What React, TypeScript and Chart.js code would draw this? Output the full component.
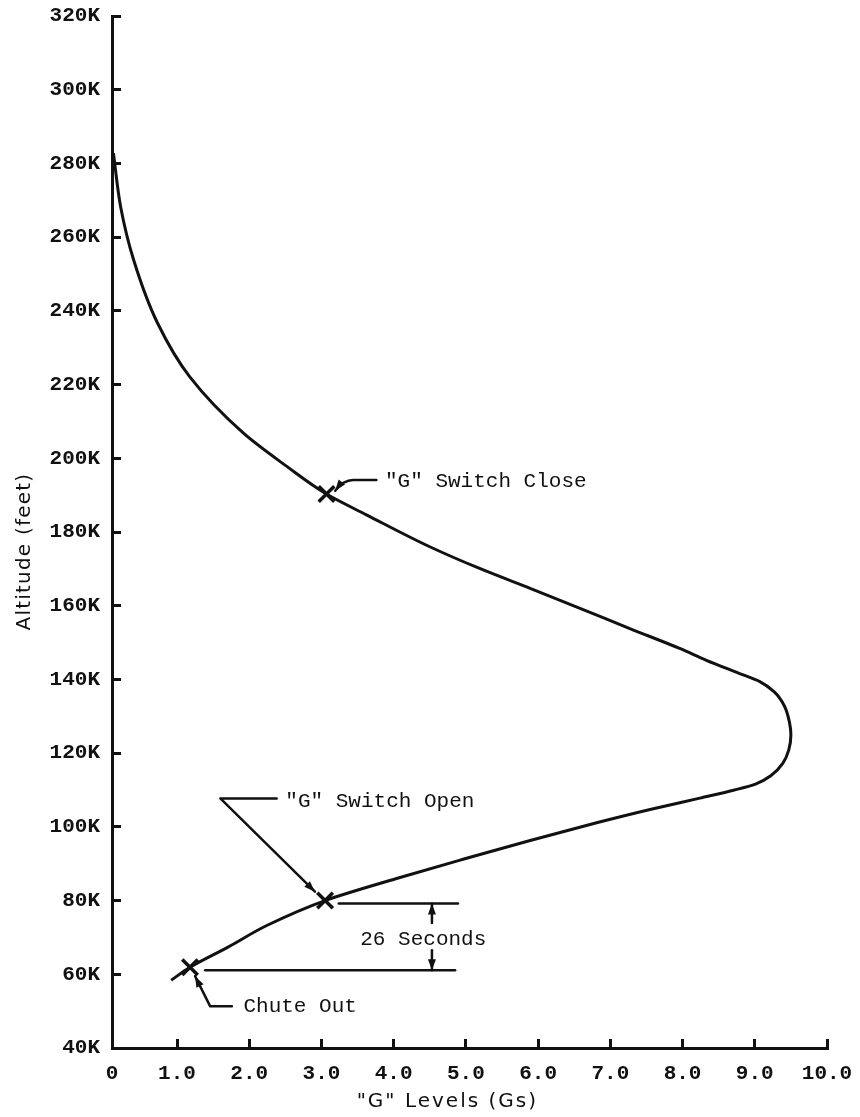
import React, { useEffect, useRef } from 'react';
import { Chart, registerables } from 'chart.js';

Chart.register(...registerables);

// ---- Data ----
// Curve, ordered from the top of the trajectory downward (altitude strictly decreasing)
const G_LEVELS = [
  0.12, 0.22, 0.4, 0.73, 1.18, 1.92, 2.52, 3.07, 3.63, 4.5, 5.19, 5.89, 6.58, 7.27, 7.96,
  8.33, 8.79, 9.07, 9.27, 9.41, 9.48, 9.5, 9.47, 9.39, 9.23, 9.01, 8.72, 8.24, 7.55, 6.81,
  5.89, 4.96, 4.04, 3.05, 2.25, 1.7, 1.18, 0.92,
];
const ALTITUDE_K = [
  282.8, 268.2, 253.8, 236.7, 222.0, 206.8, 197.8, 190.3, 184.6, 176.0, 170.1, 164.7, 159.3,
  153.8, 148.4, 145.2, 141.6, 139.4, 136.6, 132.8, 128.4, 124.9, 120.8, 117.3, 114.0, 111.6,
  110.0, 107.8, 104.7, 101.1, 96.3, 91.2, 86.0, 80.0, 73.3, 67.3, 61.9, 58.4,
];

// Event markers (X symbols): G switch close, G switch open, chute out
const EVENT_G = [3.07, 3.05, 1.18];
const EVENT_ALT_K = [190.3, 80.0, 61.9];

// Axis ticks
const X_TICK_VALUES = [0.1, 1, 2, 3, 4, 5, 6, 7, 8, 9, 10];
const X_TICK_LABELS = ['0', '1.0', '2.0', '3.0', '4.0', '5.0', '6.0', '7.0', '8.0', '9.0', '10.0'];
const Y_TICK_VALUES = [40, 60, 80, 100, 120, 140, 160, 180, 200, 220, 240, 260, 280, 300, 320];
const Y_TICK_LABELS = ['40K', '60K', '80K', '100K', '120K', '140K', '160K', '180K', '200K', '220K', '240K', '260K', '280K', '300K', '320K'];

const X_TITLE = '"G" Levels (Gs)';
const Y_TITLE = 'Altitude (feet)';

// Annotation texts anchored in data units (G, altitude K)
const NOTE_TEXTS = ['"G" Switch Close', '"G" Switch Open', '26 Seconds', 'Chute Out'];
const NOTE_G = [3.88, 2.5, 4.41, 1.92];
const NOTE_ALT = [193.6, 106.8, 69.4, 51.2];
const NOTE_ALIGN = ['left', 'left', 'center', 'left'];

// Leader lines anchored in data units
const LEADERS = [
  { g: [3.76, 3.44, 3.19], alt: [194.1, 194.1, 191.2], curve: true, arrow: true },
  { g: [2.38, 1.6, 2.91], alt: [107.7, 107.7, 82.4], curve: false, arrow: true },
  { g: [1.76, 1.46, 1.25], alt: [51.3, 51.3, 59.5], curve: false, arrow: true },
  { g: [3.24, 4.89], alt: [79.2, 79.2], curve: false, arrow: false },
  { g: [1.39, 4.85], alt: [61.1, 61.1], curve: false, arrow: false },
  { g: [4.53, 4.53], alt: [73.9, 79.2], curve: false, arrow: true },
  { g: [4.53, 4.53], alt: [66.5, 61.1], curve: false, arrow: true },
];

const INK = '#111';
const MONO = '"Liberation Mono", "DejaVu Sans Mono", monospace';
const SANS = '"DejaVu Sans", "Liberation Sans", sans-serif';

function drawArrowHead(ctx: CanvasRenderingContext2D, fx: number, fy: number, tx: number, ty: number) {
  const a = Math.atan2(ty - fy, tx - fx);
  const len = 11;
  const w = 4;
  ctx.beginPath();
  ctx.moveTo(tx, ty);
  ctx.lineTo(tx - len * Math.cos(a) + w * Math.sin(a), ty - len * Math.sin(a) - w * Math.cos(a));
  ctx.lineTo(tx - len * Math.cos(a) - w * Math.sin(a), ty - len * Math.sin(a) + w * Math.cos(a));
  ctx.closePath();
  ctx.fill();
}

const annotationPlugin = {
  id: 'annotations',
  afterDatasetsDraw(chart: any) {
    const ctx: CanvasRenderingContext2D = chart.ctx;
    const xs = chart.scales.x;
    const ys = chart.scales.y;
    ctx.save();
    ctx.strokeStyle = INK;
    ctx.fillStyle = INK;
    ctx.lineWidth = 2.5;
    ctx.lineCap = 'round';
    ctx.lineJoin = 'round';
    LEADERS.forEach((ld) => {
      const px = ld.g.map((v) => xs.getPixelForValue(v));
      const py = ld.alt.map((v) => ys.getPixelForValue(v));
      ctx.beginPath();
      ctx.moveTo(px[0], py[0]);
      let fromX = px[px.length - 2];
      let fromY = py[py.length - 2];
      if (ld.curve && px.length === 3) {
        ctx.lineTo(px[1], py[1]);
        const cx = px[2] + (px[1] - px[2]) * 0.45;
        const cy = py[1];
        ctx.quadraticCurveTo(cx, cy, px[2], py[2]);
        fromX = cx;
        fromY = cy;
      } else {
        for (let i = 1; i < px.length; i++) ctx.lineTo(px[i], py[i]);
      }
      ctx.stroke();
      if (ld.arrow) drawArrowHead(ctx, fromX, fromY, px[px.length - 1], py[py.length - 1]);
    });

    ctx.font = `21px ${MONO}`;
    ctx.textBaseline = 'middle';
    NOTE_TEXTS.forEach((t, i) => {
      ctx.textAlign = NOTE_ALIGN[i] as CanvasTextAlign;
      ctx.fillText(t, xs.getPixelForValue(NOTE_G[i]), ys.getPixelForValue(NOTE_ALT[i]));
    });
    ctx.restore();
  },
  afterDraw(chart: any) {
    const ctx: any = chart.ctx;
    const area = chart.chartArea;
    ctx.save();
    ctx.fillStyle = INK;
    ctx.font = `20px ${SANS}`;
    ctx.textAlign = 'center';
    ctx.textBaseline = 'middle';
    // x-axis title
    ctx.letterSpacing = '2px';
    ctx.fillText(X_TITLE, area.left + (area.right - area.left) * 0.469, chart.height - 15);
    // y-axis title
    ctx.letterSpacing = '1.2px';
    ctx.translate(25, area.top + (area.bottom - area.top) * 0.519);
    ctx.rotate(-Math.PI / 2);
    ctx.fillText(Y_TITLE, 0, 0);
    ctx.restore();
  },
};

export default function App() {
  const canvasRef = useRef<HTMLCanvasElement | null>(null);

  useEffect(() => {
    const canvas = canvasRef.current;
    if (!canvas) return;
    const curve = G_LEVELS.map((g, i) => ({ x: g, y: ALTITUDE_K[i] }));
    const events = EVENT_G.map((g, i) => ({ x: g, y: EVENT_ALT_K[i] }));

    const chart = new Chart(canvas, {
      type: 'line',
      data: {
        datasets: [
          {
            label: 'G level',
            data: curve,
            borderColor: INK,
            borderWidth: 3,
            pointRadius: 0,
            cubicInterpolationMode: 'monotone',
            fill: false,
          },
          {
            type: 'scatter',
            label: 'Events',
            data: events,
            pointStyle: 'crossRot',
            pointRadius: 11,
            borderWidth: 3.5,
            borderColor: INK,
            backgroundColor: INK,
            showLine: false,
          } as any,
        ],
      },
      options: {
        indexAxis: 'y',
        responsive: false,
        animation: false,
        layout: { padding: { top: 16, right: 33, left: 0, bottom: 0 } },
        plugins: {
          legend: { display: false },
          tooltip: { enabled: false },
        },
        scales: {
          x: {
            type: 'linear',
            position: 'bottom',
            min: 0.1,
            max: 10,
            afterBuildTicks: (s: any) => {
              s.ticks = X_TICK_VALUES.map((v) => ({ value: v }));
            },
            afterFit: (s: any) => {
              s.height = 69;
              s.paddingLeft = 0;
              s.paddingRight = 0;
            },
            border: { display: true, width: 3, color: INK },
            grid: { drawOnChartArea: false, drawTicks: true, tickLength: -9, tickWidth: 3, color: INK },
            ticks: {
              autoSkip: false,
              maxRotation: 0,
              padding: 22,
              color: INK,
              font: { family: MONO, size: 21, weight: 'bold' },
              callback: (_v: any, i: number) => X_TICK_LABELS[i],
            },
          },
          y: {
            type: 'linear',
            position: 'left',
            min: 40,
            max: 320,
            afterBuildTicks: (s: any) => {
              s.ticks = Y_TICK_VALUES.map((v) => ({ value: v }));
            },
            afterFit: (s: any) => {
              s.width = 112;
              s.paddingTop = 0;
              s.paddingBottom = 0;
            },
            border: { display: true, width: 3, color: INK },
            grid: { drawOnChartArea: false, drawTicks: true, tickLength: -9, tickWidth: 3, color: INK },
            ticks: {
              autoSkip: false,
              padding: 21,
              color: INK,
              font: { family: MONO, size: 21, weight: 'bold' },
              callback: (_v: any, i: number) => Y_TICK_LABELS[i],
            },
          },
        },
      },
      plugins: [annotationPlugin],
    } as any);

    return () => chart.destroy();
  }, []);

  return (
    <div style={{ position: 'absolute', left: 0, top: 0, width: 860, height: 1117, background: '#fff' }}>
      <canvas ref={canvasRef} width={860} height={1117} style={{ display: 'block', width: 860, height: 1117 }} />
    </div>
  );
}
